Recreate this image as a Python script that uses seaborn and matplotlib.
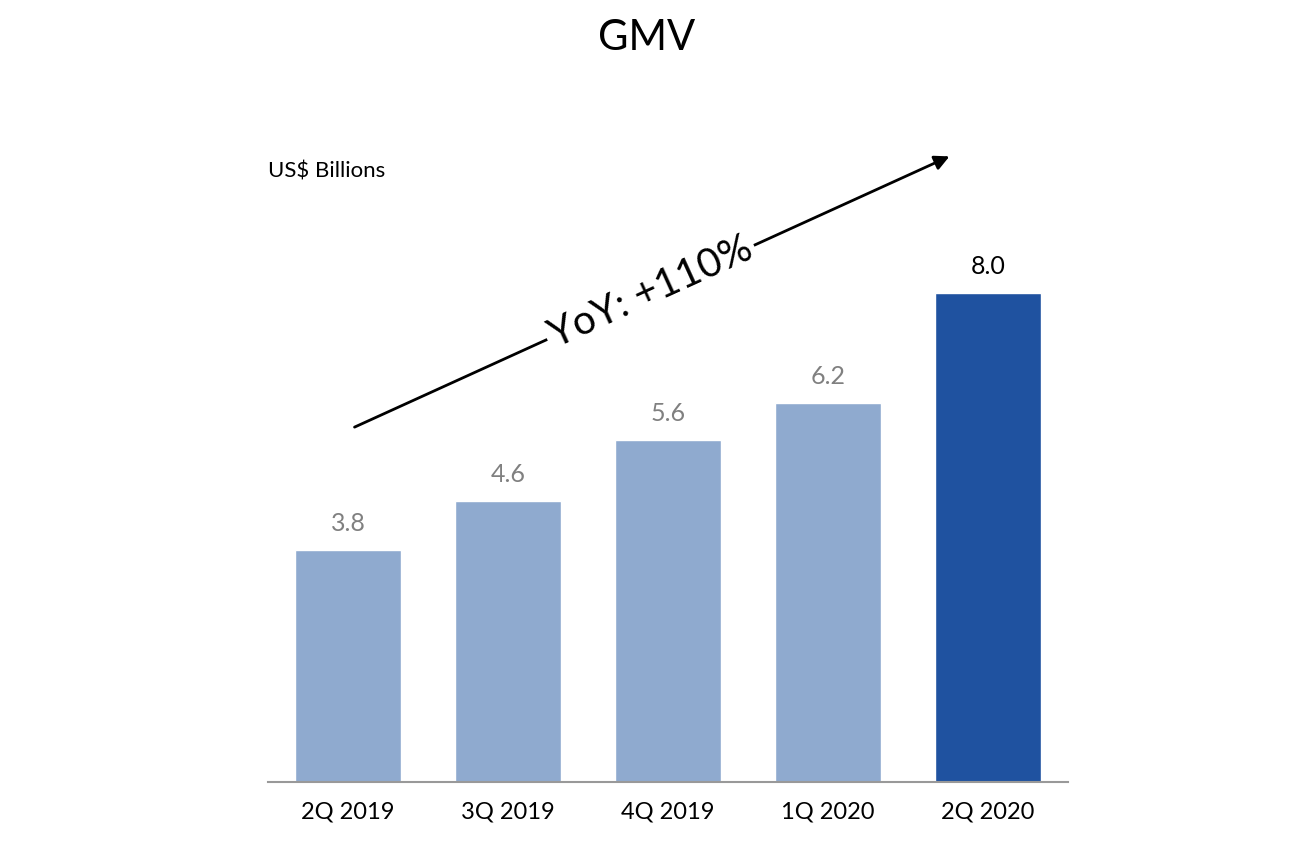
import pandas as pd
import matplotlib.pyplot as plt
import seaborn as sns

# data
quarters = ['2Q 2019', '3Q 2019', '4Q 2019', '1Q 2020', '2Q 2020']
gmv = [3.8, 4.6, 5.6, 6.2, 8.0]
bar_colors = ['#8FAACF', '#8FAACF', '#8FAACF', '#8FAACF', '#1F52A0']
label_colors = ['#808080', '#808080', '#808080', '#808080', '#000000']

df = pd.DataFrame({'Quarter': quarters, 'GMV': gmv})

sns.set_style('white')
plt.rcParams['font.family'] = ['Lato', 'DejaVu Sans']
plt.rcParams['text.color'] = 'black'
plt.rcParams['xtick.color'] = 'black'

fig = plt.figure(figsize=(12.94, 8.5), dpi=100)
ax = fig.add_axes([268 / 1294, 68 / 850, 800 / 1294, 672 / 850])

sns.barplot(data=df, x='Quarter', y='GMV', hue='Quarter', palette=bar_colors,
            width=0.66, legend=False, ax=ax, saturation=1)

ax.set_xlim(-0.5, 4.5)
ax.set_ylim(0, 11.0)

# value labels
for i, v in enumerate(gmv):
    ax.text(i, v + 0.25, f'{v:.1f}', ha='center', va='bottom',
            fontsize=18, color=label_colors[i])

# axes styling
for s in ['top', 'right', 'left']:
    ax.spines[s].set_visible(False)
ax.spines['bottom'].set_color('#999999')
ax.spines['bottom'].set_linewidth(1.5)
ax.set_yticks([])
ax.set_xlabel('')
ax.set_ylabel('')
ax.tick_params(axis='x', length=0, pad=14, labelsize=17, labelcolor='black')

# growth arrow
ax.annotate('', xy=(3.775, 10.26), xytext=(0.025, 5.79),
            arrowprops=dict(arrowstyle='-|>', color='black', lw=2,
                            mutation_scale=22))
ax.text(1.89, 8.02, 'YoY: +110%', rotation=24.5, ha='center', va='center',
        fontsize=29, color='black', rotation_mode='anchor',
        bbox=dict(facecolor='white', edgecolor='none', pad=3))

# titles
fig.text(0.5, 1 - 38 / 850, 'GMV', ha='center', va='center', fontsize=30,
         color='black')
fig.text(268 / 1294, 1 - 172 / 850, 'US$ Billions', ha='left', va='center',
         fontsize=16, color='black')

fig.savefig('out.png', dpi=100)
